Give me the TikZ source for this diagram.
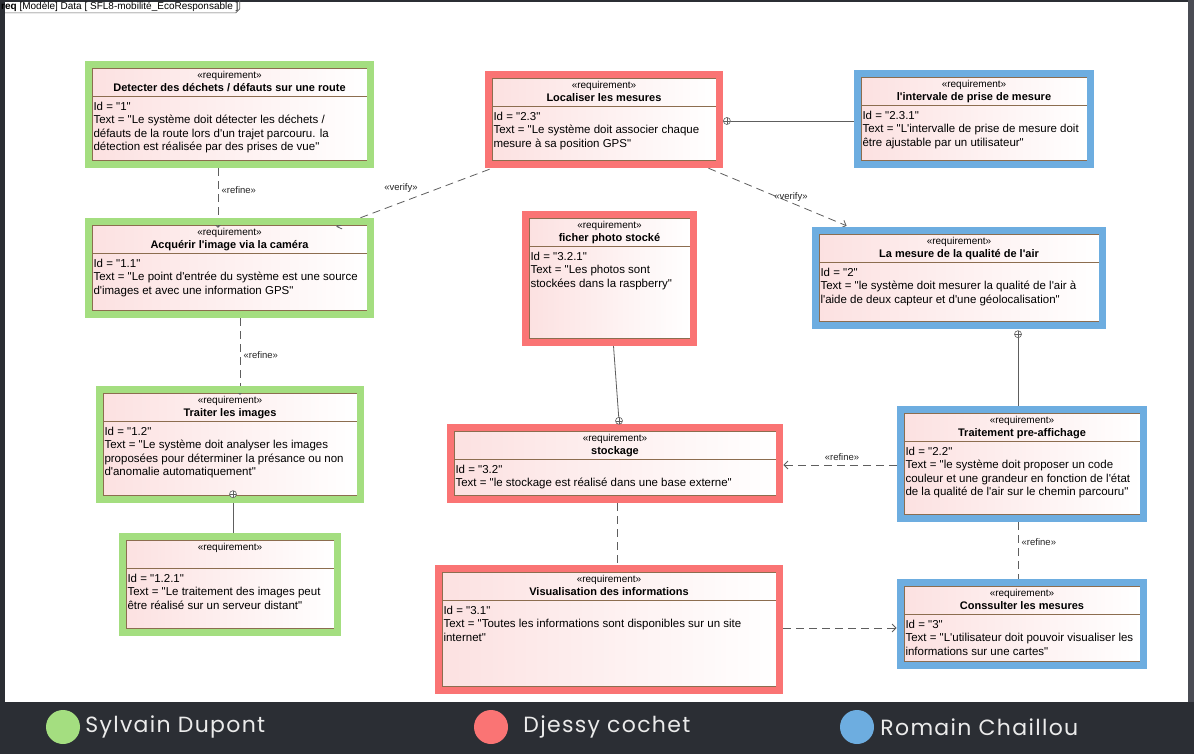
\documentclass[tikz,border=0pt]{standalone}
\usepackage{fontspec}
\setmainfont{Liberation Sans}[Ligatures=TeXOff]
\newfontfamily\legendfont{Poppins}[LetterSpace=6]
\usetikzlibrary{calc, positioning, arrows.meta, shapes.multipart}

\definecolor{board}{HTML}{2B2E34}
\definecolor{boardedge}{HTML}{4A4C54}
\definecolor{sgreen}{HTML}{A4DE80}
\definecolor{dred}{HTML}{FA7474}
\definecolor{rblue}{HTML}{6DADE0}
\definecolor{reqbrown}{HTML}{8C6D4F}
\definecolor{reqpink}{HTML}{FCE1E1}
\definecolor{linkgray}{HTML}{5E5E5E}

% head and body of a requirement box (body: total box height, then lines)
\newcommand{\reqhead}[1]{\begin{tabular}{@{}c@{}}{\fontsize{10}{12}\selectfont «requirement»}\\{\fontsize{11}{13}\selectfont\bfseries #1}\end{tabular}}
\newcommand{\reqbody}[2]{\vbox to \dimexpr #1pt-27pt\relax{\hbox{\begin{tabular}{@{}l@{}}\rule{0pt}{14pt}#2\end{tabular}}\vfil}}

\begin{document}
\begin{tikzpicture}[
    x=1pt, y=-1pt,
    reqbox/.style={rectangle split, rectangle split parts=2, draw=reqbrown, line width=0.8pt,
        left color=reqpink, right color=white, rectangle split part align={center, left},
        inner xsep=1.5pt, inner ysep=0pt, font=\fontsize{11.5}{13.5}\selectfont},
    reqframe/.style={line width=7pt},
    dep/.style={draw=linkgray, line width=0.8pt, dash pattern=on 8pt off 5pt,
        -{Straight Barb[length=4pt, width=8pt]}},
    owns/.style={draw=linkgray, line width=0.8pt},
    contain/.style={circle, draw=linkgray, fill=white, line width=0.6pt, inner sep=0pt, minimum size=7pt,
        path picture={\draw[linkgray, line width=0.5pt] (path picture bounding box.north) -- (path picture bounding box.south)
            (path picture bounding box.west) -- (path picture bounding box.east);}},
    deplabel/.style={font=\fontsize{9.5}{11}\selectfont, inner sep=1.5pt, text=black!85},
    legdot/.style={circle, minimum size=34pt, inner sep=0pt},
    legtext/.style={font=\legendfont\fontsize{22}{25}\selectfont, text=white!92!black, inner sep=1pt}
]
    \useasboundingbox (0,0) rectangle (1194,754);

    % board and white sheet
    \fill[board] (0,0) rectangle (1194,754);
    \fill[white] (5,2) rectangle (1188,702);
    \fill[boardedge] (1188,0) rectangle (1194,702);

    % diagram tab
    \node[anchor=west, font=\fontsize{10}{12}\selectfont, inner sep=1pt] (hdr) at (0,7) {\textbf{req} [Modèle] Data [ SFL8-mobilité\_EcoResponsable ]};
    \draw[linkgray, line width=0.6pt] ($(hdr.south west)+(5,0)$) -- ($(hdr.south east)+(-4,0)$) -- ($(hdr.south east)+(0,-4)$) -- ($(hdr.north east)+(0,-1)$);

    % Sylvain Dupont
    \node[reqbox, minimum width=275pt] (r1) at (229.5,114.5)
        {\reqhead{Detecter des déchets / défauts sur une route}\nodepart{two}\reqbody{91}{Id = "1"\\Text = "Le système doit détecter les déchets /\\défauts de la route lors d'un trajet parcouru. la\\détection est réalisée par des prises de vue"}};
    \node[reqbox, minimum width=275pt] (r11) at (229.5,268)
        {\reqhead{Acquérir l'image via la caméra}\nodepart{two}\reqbody{84}{Id = "1.1"\\Text = "Le point d'entrée du système est une source\\d'images et avec une information GPS"}};
    \node[reqbox, minimum width=254pt] (r12) at (230,444.5)
        {\reqhead{Traiter les images}\nodepart{two}\reqbody{101}{Id = "1.2"\\Text = "Le système doit analyser les images\\proposées pour déterminer la présance ou non\\d'anomalie automatiquement"}};
    \node[reqbox, minimum width=208pt] (r121) at (230,584.5)
        {\reqhead{}\nodepart{two}\reqbody{87}{Id = "1.2.1"\\Text = "Le traitement des images peut\\être réalisé sur un serveur distant"}};

    % Djessy cochet
    \node[reqbox, minimum width=224pt] (r23) at (604,119.5)
        {\reqhead{Localiser les mesures}\nodepart{two}\reqbody{81}{Id = "2.3"\\Text = "Le système doit associer chaque\\mesure à sa position GPS"}};
    \node[reqbox, minimum width=161pt] (r321) at (609.5,278.5)
        {\reqhead{ficher photo stocké}\nodepart{two}\reqbody{119}{Id = "3.2.1"\\Text = "Les photos sont\\stockées dans la raspberry"}};
    \node[reqbox, minimum width=322pt] (r32) at (615,463.5)
        {\reqhead{stockage}\nodepart{two}\reqbody{63}{Id = "3.2"\\Text = "le stockage est réalisé dans une base externe"}};
    \node[reqbox, minimum width=334pt] (r31) at (609,629.5)
        {\reqhead{Visualisation des informations}\nodepart{two}\reqbody{113}{Id = "3.1"\\Text = "Toutes les informations sont disponibles sur un site\\internet"}};

    % Romain Chaillou
    \node[reqbox, minimum width=226pt] (r231) at (974,119)
        {\reqhead{l'intervale de prise de mesure}\nodepart{two}\reqbody{82}{Id = "2.3.1"\\Text = "L'intervalle de prise de mesure doit\\être ajustable par un utilisateur"}};
    \node[reqbox, minimum width=280pt] (r2) at (959,278)
        {\reqhead{La mesure de la qualité de l'air}\nodepart{two}\reqbody{86}{Id = "2"\\Text = "le système doit mesurer la qualité de l'air à\\l'aide de deux capteur et d'une géolocalisation"}};
    \node[reqbox, minimum width=236pt] (r22) at (1022,464)
        {\reqhead{Traitement pre-affichage}\nodepart{two}\reqbody{100}{Id = "2.2"\\Text = "le système doit proposer un code\\couleur et une grandeur en fonction de l'état\\de la qualité de l'air sur le chemin parcouru"}};
    \node[reqbox, minimum width=236pt] (r3) at (1022,624)
        {\reqhead{Conssulter les mesures}\nodepart{two}\reqbody{74}{Id = "3"\\Text = "L'utilisateur doit pouvoir visualiser les\\informations sur une cartes"}};

    % containment ends
    \coordinate (c12) at ($(r12.south)+(3,-2)$);
    \coordinate (c23) at ($(r23.east)+(10.5,1.5)$);
    \coordinate (c32) at ($(r32.north)+(4,-10)$);
    \coordinate (c2) at ($(r2.south)+(59,12)$);

    \draw[owns] (c12) -- ($(r121.north)+(3,0)$);
    \draw[owns] (c23) -- (r231.west |- c23);
    \draw[owns] ($(r321.south)+(3.5,0)$) -- (c32);
    \draw[owns] (c2) -- ($(r22.north)+(-4,0)$);

    % dependencies
    \draw[dep] ($(r1.south)+(-11.5,7)$) -- ($(r11.north)+(-11.5,3)$);
    \draw[dep] ($(r11.south)+(10.5,7)$) -- ($(r12.north)+(10,2)$);
    \draw[dep] ($(r23.south west)+(-2,8)$) -- ($(r11.north east)+(-31,2)$);
    \draw[dep] ($(r23.south east)+(-8,7)$) -- ($(r2.north west)+(28,-8)$);
    \draw[dep] ($(r22.west)+(-7,1)$) -- ($(r32.east)+(7,1.5)$);
    \draw[dep] ($(r22.south)+(-4,7)$) -- ($(r3.north)+(-4,0)$);
    \draw[dep] ($(r31.east)+(7,-1.5)$) -- ($(r3.west)+(-7,4)$);
    \draw[dep] ($(r32.south)+(2,7)$) -- ($(r31.north)+(8,0)$);

    % colour frames, one per author
    \foreach \n/\c in {r1/sgreen, r11/sgreen, r12/sgreen, r121/sgreen,
                       r23/dred, r321/dred, r32/dred, r31/dred,
                       r231/rblue, r2/rblue, r22/rblue, r3/rblue}
        \draw[reqframe, draw=\c] ($(\n.north west)+(-3.5,-3.5)$) rectangle ($(\n.south east)+(3.5,3.5)$);

    \foreach \k in {c12, c23, c32, c2}
        \node[contain] (k\k) at (\k) {};

    % stereotypes on the links
    \node[deplabel, anchor=west] (l1) at (220,190) {«refine»};
    \node[deplabel, anchor=west] (l2) at (242,355) {«refine»};
    \node[deplabel] (l3) at (401,188) {«verify»};
    \node[deplabel] (l4) at (791,197) {«verify»};
    \node[deplabel] (l5) at (842,457) {«refine»};
    \node[deplabel, anchor=west] (l6) at (1020,542) {«refine»};

    % legend
    \node[legdot, fill=sgreen] (dotG) at (63,727) {};
    \node[legtext, right=4pt of dotG] (txtG) {Sylvain Dupont};
    \node[legdot, fill=dred] (dotR) at (491,727) {};
    \node[legtext, right=14pt of dotR] (txtR) {Djessy cochet};
    \node[legdot, fill=rblue] (dotB) at (857,727) {};
    \node[legtext, right=5pt of dotB] (txtB) {Romain Chaillou};
\end{tikzpicture}
\end{document}
